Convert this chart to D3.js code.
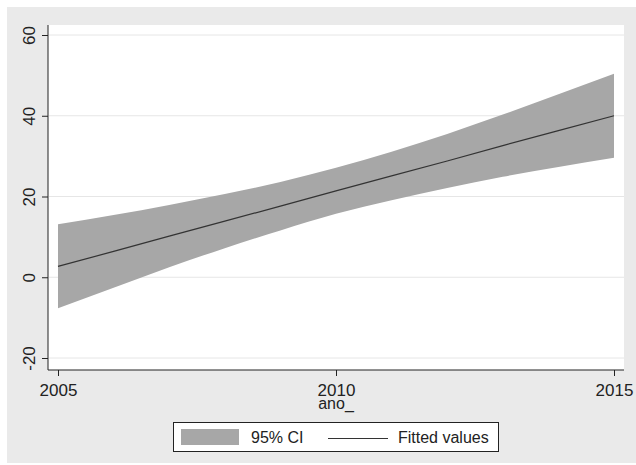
<!DOCTYPE html>
<html>
<head>
<meta charset="utf-8">
<script src="https://cdn.jsdelivr.net/npm/d3@7"></script>
<style>
  body { margin: 0; background: #fff; }
  text { font-family: "Liberation Sans", Arial, sans-serif; fill: #222; }
</style>
</head>
<body>
<div id="chart"></div>
<script>
// values
const years  = [2005, 2006, 2007, 2008, 2009, 2010, 2011, 2012, 2013, 2014, 2015];
const fitted = [2.7, 6.4, 10.2, 13.9, 17.6, 21.4, 25.1, 28.8, 32.6, 36.3, 40.0];
const upper  = [13.1, 15.4, 17.9, 20.6, 23.6, 27.1, 31.1, 35.5, 40.3, 45.3, 50.4];
const lower  = [-7.7, -2.6, 2.5, 7.2, 11.6, 15.7, 19.1, 22.1, 24.9, 27.3, 29.6];
const xTicks = [2005, 2010, 2015];
const yTicks = [-20, 0, 20, 40, 60];
const legendLabels = ["95% CI", "Fitted values"];

const W = 636, H = 465;
const svg = d3.select("#chart").append("svg")
    .attr("width", W).attr("height", H);

// gray outer area (graph region)
svg.append("rect").attr("x", 7).attr("y", 7)
    .attr("width", W - 7).attr("height", H - 9)
    .attr("fill", "#eaeaea");

// plot region
const pL = 48, pR = 624, pT = 25, pB = 370;
svg.append("rect").attr("x", pL).attr("y", pT)
    .attr("width", pR - pL).attr("height", pB - pT)
    .attr("fill", "#fff");

const x = d3.scaleLinear().domain([2005, 2015]).range([58, 614]);
const y = d3.scaleLinear().domain([-20, 60]).range([358, 35]);

// gridlines
svg.append("g").selectAll("line")
    .data(yTicks)
    .join("line")
    .attr("x1", pL + 1).attr("x2", pR)
    .attr("y1", d => y(d)).attr("y2", d => y(d))
    .attr("stroke", "#e6e6e6").attr("stroke-width", 1);

const rows = years.map((yr, i) => ({ yr: yr, fit: fitted[i], lo: lower[i], hi: upper[i] }));

// CI band
svg.append("path")
    .datum(rows)
    .attr("d", d3.area()
        .curve(d3.curveMonotoneX)
        .x(d => x(d.yr))
        .y0(d => y(d.lo))
        .y1(d => y(d.hi)))
    .attr("fill", "#a7a7a7");

// fitted line
svg.append("path")
    .datum(rows)
    .attr("d", d3.line()
        .x(d => x(d.yr))
        .y(d => y(d.fit)))
    .attr("fill", "none")
    .attr("stroke", "#333")
    .attr("stroke-width", 1.2);

// plain hyphen minus like the original
const fmt = d => String(d);

// y axis
const yAxis = svg.append("g").attr("transform", "translate(" + pL + ",0)")
    .call(d3.axisLeft(y).tickValues(yTicks).tickSize(6).tickFormat(fmt));
yAxis.select(".domain").attr("d", "M0," + pT + "V" + pB).attr("stroke", "#222");
yAxis.selectAll(".tick line").attr("stroke", "#222");
yAxis.selectAll(".tick text")
    .attr("x", 0).attr("dy", 0)
    .attr("text-anchor", "middle")
    .attr("transform", "translate(-13,0) rotate(-90)")
    .style("font-size", "17px")
    .style("font-family", "'Liberation Sans', Arial, sans-serif")
    .attr("fill", "#222");

// x axis
const xAxis = svg.append("g").attr("transform", "translate(0," + pB + ")")
    .call(d3.axisBottom(x).tickValues(xTicks).tickSize(6).tickFormat(fmt));
xAxis.select(".domain").attr("d", "M" + pL + ",0H" + pR).attr("stroke", "#222");
xAxis.selectAll(".tick line").attr("stroke", "#222");
xAxis.selectAll(".tick text")
    .attr("y", 26).attr("dy", 0)
    .style("font-size", "17px")
    .style("font-family", "'Liberation Sans', Arial, sans-serif")
    .attr("fill", "#222");

// axis title
svg.append("text")
    .attr("x", x(2010)).attr("y", 409)
    .attr("text-anchor", "middle")
    .style("font-size", "16px")
    .text("ano_");

// legend
const lg = svg.append("g");
lg.append("rect").attr("x", 173.5).attr("y", 422.5)
    .attr("width", 325).attr("height", 29)
    .attr("fill", "#fff").attr("stroke", "#222").attr("stroke-width", 1);
lg.append("rect").attr("x", 181).attr("y", 429)
    .attr("width", 58).attr("height", 16)
    .attr("fill", "#a7a7a7");
lg.append("text").attr("x", 251).attr("y", 443)
    .style("font-size", "16px").text(legendLabels[0]);
lg.append("line").attr("x1", 328).attr("x2", 388)
    .attr("y1", 438.5).attr("y2", 438.5)
    .attr("stroke", "#333").attr("stroke-width", 1.2);
lg.append("text").attr("x", 398).attr("y", 443)
    .style("font-size", "16px").text(legendLabels[1]);
</script>
</body>
</html>
